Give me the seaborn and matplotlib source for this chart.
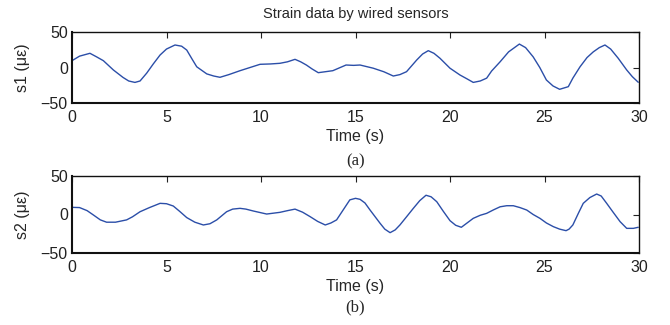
import numpy as np
import pandas as pd
import matplotlib
matplotlib.use('Agg')
import matplotlib.pyplot as plt
import seaborn as sns

# values (time in s, strain in micro-strain)
t1 = [0.0, 0.4, 0.95, 1.3, 1.66, 2.19, 2.7, 3.0, 3.33, 3.6, 3.95, 4.3, 4.66, 5.0,
      5.45, 5.8, 6.07, 6.35, 6.6, 7.13, 7.5, 7.83, 8.3, 8.89, 9.95, 10.5, 11.0,
      11.4, 11.8, 12.1, 12.4, 12.7, 13.03, 13.8, 14.5, 14.9, 15.24, 15.94, 16.5,
      17.0, 17.35, 17.7, 18.24, 18.55, 18.85, 19.15, 19.47, 20.0, 20.53, 20.9,
      21.23, 21.6, 21.94, 22.2, 22.65, 23.1, 23.67, 24.0, 24.4, 24.75, 25.1,
      25.45, 25.8, 26.26, 26.5, 26.88, 27.25, 27.58, 27.9, 28.2, 28.5, 28.9,
      29.35, 29.65, 29.96]
s1 = [9.6, 16, 20, 15, 9.6, -3.5, -14, -19, -21, -19, -8, 5, 17.6, 26,
      31.7, 30, 24.6, 12, 1, -9, -12, -13.8, -10, -4.5, 4.5, 5, 5.9,
      8, 11.5, 8, 3.5, -2, -7.3, -4.5, 3.5, 3, 3.5, -1, -6,
      -12, -10, -5.9, 10.6, 19, 23.7, 20, 13, -1, -10.6, -16,
      -21, -19, -15, -5, 8, 22, 33, 28, 15, 0, -17.6,
      -26, -30.7, -27, -15, 1, 14, 22, 28, 31.7, 26, 13,
      -3.5, -13, -20.8]

t2 = [0.0, 0.4, 0.8, 1.13, 1.5, 1.83, 2.3, 2.89, 3.2, 3.6, 4.1, 4.66, 5.0, 5.36,
      5.7, 6.07, 6.5, 6.95, 7.3, 7.66, 8.18, 8.5, 8.89, 9.2, 9.6, 10.3, 11.0,
      11.4, 11.8, 12.2, 12.6, 13.0, 13.4, 13.7, 14.0, 14.35, 14.7, 15.0, 15.24,
      15.5, 15.77, 16.3, 16.55, 16.83, 17.1, 17.35, 17.7, 18.06, 18.4, 18.73,
      19.0, 19.3, 19.65, 20.0, 20.3, 20.6, 21.23, 21.6, 21.94, 22.3, 22.65, 23.0,
      23.35, 23.7, 24.06, 24.4, 24.76, 25.1, 25.47, 25.8, 26.14, 26.3, 26.5,
      26.8, 27.05, 27.4, 27.76, 28.0, 28.29, 28.6, 29.0, 29.35, 29.7, 29.96]
s2 = [9.3, 9, 5, -0.6, -7, -10, -10, -7, -3, 3.6, 9, 14.5, 14, 11,
      4, -4, -10, -13.6, -12, -7, 3.6, 7, 8, 7, 4.5, 0.6, 2.8,
      5, 7, 3, -2.8, -9, -13.6, -11, -7, 6, 19, 21, 19.7,
      15, 5.8, -11.4, -19, -23.6, -20, -13.6, -3, 8, 18, 25,
      23, 16.6, 4, -8, -14, -16.6, -5, -1, 1.5, 6, 10, 11.4,
      11.4, 9, 5.8, 0, -5, -11, -15.8, -19, -21, -19, -13.6,
      2, 14.5, 22, 26.6, 24, 14.5, 4, -9.3, -18, -18, -16.6]

xticks = [0, 5, 10, 15, 20, 25, 30]
yticks = [-50, 0, 50]

sns.set_style('white')
plt.rcParams['font.family'] = ['Liberation Sans', 'DejaVu Sans']
plt.rcParams['axes.unicode_minus'] = True

line_color = '#2b4ea8'

fig = plt.figure(figsize=(6.7, 3.25), dpi=100)
ax1 = fig.add_axes([72 / 670, 1 - 103 / 325, 567 / 670, 71 / 325])
ax2 = fig.add_axes([72 / 670, 1 - 253 / 325, 567 / 670, 77 / 325])

panels = [(ax1, t1, s1, 's1 (\u03bc\u03b5)', '(a)', 1 - 161 / 325),
          (ax2, t2, s2, 's2 (\u03bc\u03b5)', '(b)', 1 - 307 / 325)]

for ax, t, s, ylab, tag, tag_y in panels:
    df = pd.DataFrame({'t': t, 's': s})
    sns.lineplot(data=df, x='t', y='s', ax=ax, color=line_color, linewidth=1.0)
    ax.set_xlim(0, 30)
    ax.set_ylim(-50, 50)
    ax.set_xticks(xticks)
    ax.set_yticks(yticks)
    ax.tick_params(direction='in', length=4, width=0.8, top=True, right=True,
                   labelsize=11.5, colors='#222222', pad=3)
    ax.tick_params(axis='x', pad=5)
    for side in ['left', 'bottom']:
        ax.spines[side].set_linewidth(1.5)
    for side in ['top', 'right']:
        ax.spines[side].set_linewidth(1.0)
    for sp in ax.spines.values():
        sp.set_color('#111111')
    ax.set_xlabel('Time (s)', fontsize=11.5, labelpad=3)
    ax.set_ylabel(ylab, fontsize=11.5, labelpad=8)
    fig.text(0.5 * (72 + 639) / 670, tag_y, tag, ha='center', va='center',
             fontsize=12, family='Liberation Serif')

ax1.set_title('Strain data by wired sensors', fontsize=10.5, pad=10)

fig.savefig('out.png', dpi=100)
